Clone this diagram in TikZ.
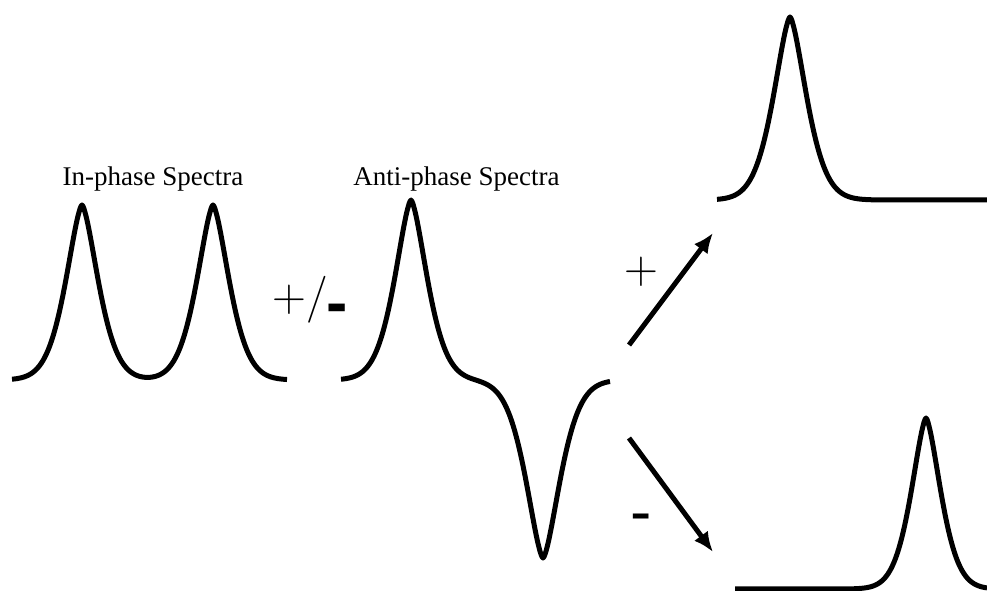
\documentclass[tikz,border=0pt]{standalone}
\usepackage{fontspec}
\setmainfont{Liberation Serif}
\newfontfamily\signfont{Liberation Sans}
\newfontfamily\lmfont{Latin Modern Roman}
\usetikzlibrary{arrows.meta}

\tikzset{
  spec/.style={line width=5pt, line join=round},
  arr/.style={line width=5pt, -{Latex[length=20pt,width=17pt]}},
  lbl/.style={font=\fontsize{27}{32}\selectfont, inner sep=0pt},
  sign/.style={font=\lmfont\fontsize{47}{47}\selectfont, inner sep=0pt},
  declare function={pk(\a,\m,\w)=exp(-min(pow((abs(\a-\m)+0.01)/\w,1.55),9));}
}

\begin{document}
\begin{tikzpicture}[x=1pt, y=-1pt]
  \useasboundingbox (0,0) rectangle (987,591);

  % Espectros
  \draw[spec] plot[domain=12:287, samples=276] (\x, {380-175*(pk(\x,82,23.5)+pk(\x,213,23.5))});
  \draw[spec] plot[domain=341:610, samples=270] (\x, {380-180*pk(\x,411,23.5)+178*pk(\x,543,24.5)});
  \draw[spec] plot[domain=717:987, samples=271] (\x, {200-183*pk(\x,790,24)});
  \draw[spec] plot[domain=735:987, samples=253] (\x, {589-171*pk(\x,926,21.5)});

  % Etiquetas
  \node[lbl, anchor=base] (inphase) at (153,185) {In-phase Spectra};
  \node[lbl, anchor=base] (antiphase) at (456.5,185) {Anti-phase Spectra};
  \node[sign, anchor=base west] (pm) at (272.4,311.75) {+/\kern-2pt\raisebox{-13pt}{\signfont\bfseries\fontsize{64}{64}\selectfont -}};
  \node[sign] (plus) at (641,272) {+};
  \node[anchor=base, inner sep=0pt, font=\signfont\fontsize{64}{64}\selectfont] (minus) at (641.5,533.5) {-};

  % Flechas
  \coordinate (up0) at (629,345);
  \coordinate (up1) at (713,233);
  \coordinate (dn0) at (629,438);
  \coordinate (dn1) at (713,552);
  \draw[arr] (up0) -- (up1);
  \draw[arr] (dn0) -- (dn1);
\end{tikzpicture}
\end{document}
